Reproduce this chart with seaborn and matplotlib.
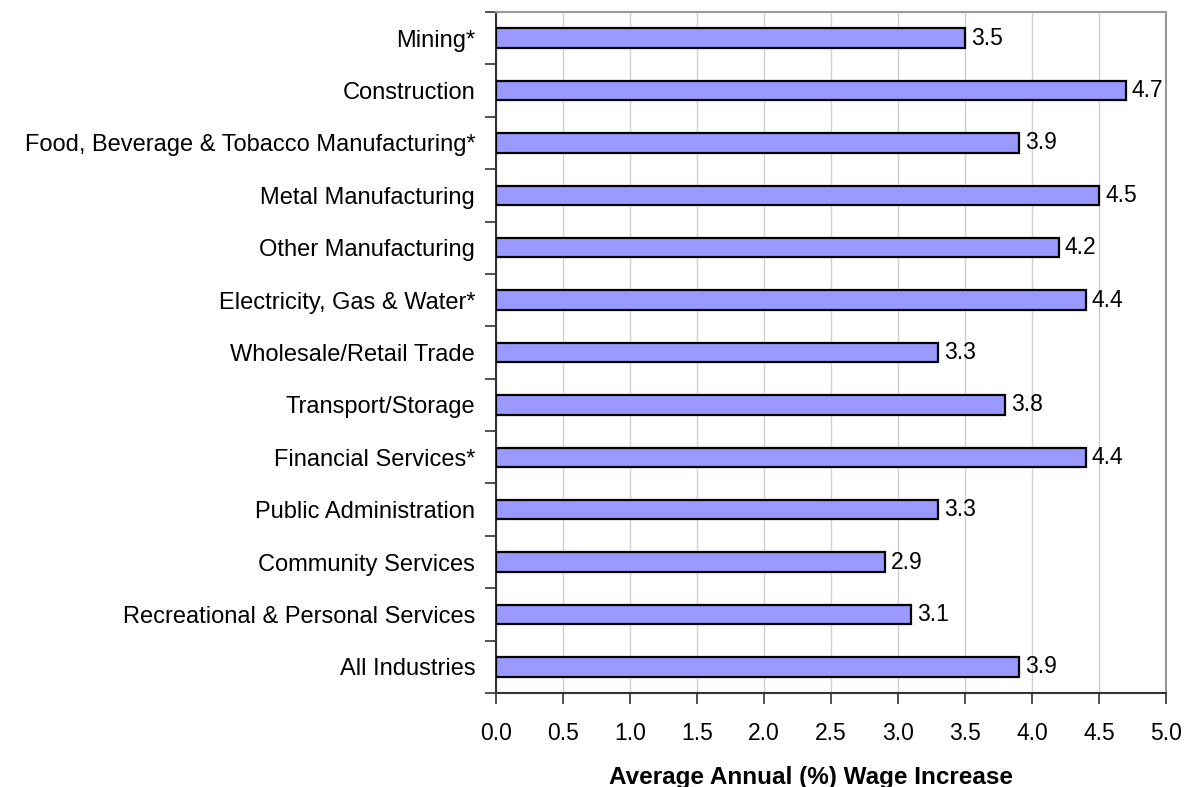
import matplotlib
matplotlib.use("Agg")
import matplotlib.pyplot as plt
import seaborn as sns
import pandas as pd
import numpy as np

industries = [
    "Mining*",
    "Construction",
    "Food, Beverage & Tobacco Manufacturing*",
    "Metal Manufacturing",
    "Other Manufacturing",
    "Electricity, Gas & Water*",
    "Wholesale/Retail Trade",
    "Transport/Storage",
    "Financial Services*",
    "Public Administration",
    "Community Services",
    "Recreational & Personal Services",
    "All Industries",
]
wage_increase = [3.5, 4.7, 3.9, 4.5, 4.2, 4.4, 3.3, 3.8, 4.4, 3.3, 2.9, 3.1, 3.9]
x_ticks = [0.0, 0.5, 1.0, 1.5, 2.0, 2.5, 3.0, 3.5, 4.0, 4.5, 5.0]

df = pd.DataFrame({"industry": industries, "value": wage_increase})

sns.set_theme(style="white")
plt.rcParams["font.family"] = ["Liberation Sans", "DejaVu Sans"]
plt.rcParams["text.color"] = "black"
plt.rcParams["axes.labelcolor"] = "black"
plt.rcParams["xtick.labelcolor"] = "black"
plt.rcParams["ytick.labelcolor"] = "black"

fig = plt.figure(figsize=(11.96, 7.87), dpi=100)
ax = fig.add_axes([0.4147, 0.1194, 0.9749 - 0.4147, 0.8654])

sns.barplot(data=df, y="industry", x="value", orient="h", order=industries,
            color="#9999FF", saturation=1, edgecolor="black", linewidth=1.6,
            width=0.37, ax=ax, zorder=3)

for bar, v in zip(ax.patches, wage_increase):
    ax.text(bar.get_width() + 0.045, bar.get_y() + bar.get_height() / 2,
            f"{v:.1f}", va="center", ha="left", fontsize=16.5, color="black", zorder=4)

ax.set_xlim(0, 5)
ax.set_ylim(len(industries) - 0.5, -0.5)
ax.set_xticks(x_ticks)
ax.set_xticklabels([f"{t:.1f}" for t in x_ticks], fontsize=16.5)
ax.xaxis.grid(True, color="#D0D0D0", linewidth=1, zorder=0)
ax.yaxis.grid(False)

ax.set_yticks(range(len(industries)))
ax.set_yticklabels(industries, fontsize=17)
ax.tick_params(axis="y", which="major", length=0, pad=15)
ax.set_yticks(np.arange(-0.5, len(industries), 1.0), minor=True)
ax.tick_params(axis="y", which="minor", length=8, width=1.2, color="#333333", left=True)
ax.tick_params(axis="x", which="major", length=8, width=1.2, color="#333333", bottom=True, pad=13)

ax.set_ylabel("")
ax.set_xlabel("Average Annual (%) Wage Increase", fontsize=17.5, fontweight="bold",
              color="black")
ax.xaxis.set_label_coords(0.47, -0.124)
ax.xaxis.label.set_va("center")

for side in ["left", "bottom"]:
    ax.spines[side].set_color("#333333")
    ax.spines[side].set_linewidth(1.5)
for side in ["top", "right"]:
    ax.spines[side].set_color("#999999")
    ax.spines[side].set_linewidth(1.5)

fig.savefig("out.png", dpi=100)
